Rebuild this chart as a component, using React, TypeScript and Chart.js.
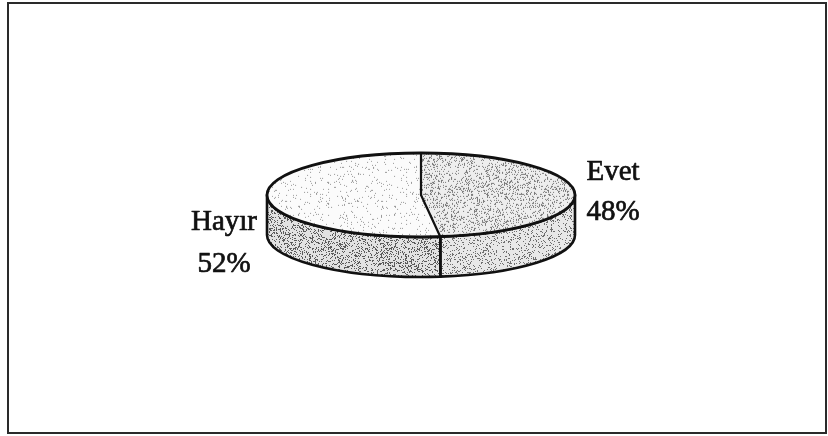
import React, { useEffect, useRef } from "react";
import { Chart, registerables } from "chart.js";

Chart.register(...registerables);

// ---- data ----
const categories = ["Evet", "Hayır"];
const values = [48, 52];
const percentLabels = ["48%", "52%"];

// ---- layout / style constants ----
const W = 828;
const H = 436;
const CX = 421; // pie centre x
const CY = 195; // top-face centre y
const RX = 154; // horizontal radius
const RY = 42; // vertical radius of the tilted ellipse
const DEPTH = 40; // side thickness
const K = RY / RX;
const FONT = '29px "Liberation Serif", "Times New Roman", serif';
const LINE = "#111111";

// per-category style: top face base, top speckle, side base, side speckle
const topBase = ["#eeeeee", "#fbfbfb"];
const topDot = ["#7a7a7a", "#9a9a9a"];
const topDensity = [0.18, 0.05];
const sideBase = ["#e8e8e8", "#e2e2e2"];
const sideDot = ["#6e6e6e", "#5a5a5a"];
const sideDensity = [0.17, 0.24];
// label placement: gap from ellipse edge to text centre, baselines relative to CY
const labelGap = [38, 43];
const labelLine1 = [-15, 35];
const labelLine2 = [25, 77];

function hash(x: number, y: number, s: number) {
  let n = Math.imul(x, 374761393) + Math.imul(y, 668265263) + Math.imul(s, 1442695041);
  n = Math.imul(n ^ (n >>> 13), 1274126177);
  n = n ^ (n >>> 16);
  return (n >>> 0) / 4294967296;
}

function stipple(base: string, dot: string, density: number, seed: number, sy: number) {
  const c = document.createElement("canvas");
  c.width = 96;
  c.height = 96;
  const g = c.getContext("2d")!;
  g.fillStyle = base;
  g.fillRect(0, 0, 96, 96);
  g.fillStyle = dot;
  for (let y = 0; y < 96; y++) {
    for (let x = 0; x < 96; x++) {
      if (hash(x, y, seed) < density) g.fillRect(x, y, 1, 1);
    }
  }
  const p = g.createPattern(c, "repeat")!;
  if (sy !== 1 && (p as any).setTransform) {
    p.setTransform(new DOMMatrix([1, 0, 0, sy, 0, 0]));
  }
  return p;
}

function makePie3d(sides: CanvasPattern[]) {
  return {
    id: "pie3d",
    beforeDatasetsDraw(chart: any) {
      const ctx = chart.ctx as CanvasRenderingContext2D;
      const arcs = chart.getDatasetMeta(0).data;
      ctx.save();
      if (!arcs.length) return;
      const { x, y, outerRadius } = arcs[0].getProps(["x", "y", "outerRadius"], true);
      const rx = outerRadius;
      const ry = outerRadius * K;
      ctx.lineWidth = 2.6;
      ctx.strokeStyle = LINE;
      ctx.lineJoin = "round";
      arcs.forEach((arc: any, i: number) => {
        const { startAngle, endAngle } = arc.getProps(["startAngle", "endAngle"], true);
        for (let k = -1; k <= 1; k++) {
          const lo = Math.max(startAngle, 2 * Math.PI * k);
          const hi = Math.min(endAngle, 2 * Math.PI * k + Math.PI);
          if (hi <= lo) continue;
          ctx.beginPath();
          ctx.ellipse(x, y, rx, ry, 0, lo, hi, false);
          ctx.lineTo(x + rx * Math.cos(hi), y + ry * Math.sin(hi) + DEPTH);
          ctx.ellipse(x, y + DEPTH, rx, ry, 0, hi, lo, true);
          ctx.closePath();
          ctx.fillStyle = sides[i];
          ctx.fill();
          ctx.stroke();
        }
      });
      // flatten the library-drawn pie into the top face ellipse
      ctx.translate(x, y);
      ctx.scale(1, K);
      ctx.translate(-x, -y);
    },
    afterDatasetsDraw(chart: any) {
      const ctx = chart.ctx as CanvasRenderingContext2D;
      ctx.restore();
      const arcs = chart.getDatasetMeta(0).data;
      if (!arcs.length) return;
      const { x, y, outerRadius } = arcs[0].getProps(["x", "y", "outerRadius"], true);
      const rx = outerRadius;
      const ry = outerRadius * K;
      ctx.save();
      ctx.lineWidth = 2.8;
      ctx.strokeStyle = LINE;
      ctx.lineJoin = "round";
      ctx.lineCap = "round";
      ctx.beginPath();
      ctx.ellipse(x, y, rx, ry, 0, 0, Math.PI * 2);
      ctx.stroke();
      ctx.lineWidth = 2.2;
      arcs.forEach((arc: any) => {
        const { startAngle } = arc.getProps(["startAngle"], true);
        const ex = x + rx * Math.cos(startAngle);
        const ey = y + ry * Math.sin(startAngle);
        ctx.beginPath();
        ctx.moveTo(x, y);
        ctx.lineTo(ex, ey);
        if (Math.sin(startAngle) > 0) ctx.lineTo(ex, ey + DEPTH);
        ctx.stroke();
      });
      // labels
      ctx.fillStyle = LINE;
      ctx.strokeStyle = LINE;
      ctx.lineWidth = 0.7;
      ctx.font = FONT;
      ctx.textAlign = "center";
      ctx.textBaseline = "alphabetic";
      arcs.forEach((arc: any, i: number) => {
        const { startAngle, endAngle } = arc.getProps(["startAngle", "endAngle"], true);
        const mid = (startAngle + endAngle) / 2;
        const dir = Math.cos(mid) >= 0 ? 1 : -1;
        const tx = x + dir * (rx + labelGap[i]);
        ctx.fillText(categories[i], tx, y + labelLine1[i]);
        ctx.strokeText(categories[i], tx, y + labelLine1[i]);
        ctx.fillText(percentLabels[i], tx, y + labelLine2[i]);
        ctx.strokeText(percentLabels[i], tx, y + labelLine2[i]);
      });
      ctx.restore();
    },
  };
}

export default function App() {
  const ref = useRef<HTMLCanvasElement>(null);
  useEffect(() => {
    const canvas = ref.current!;
    const tops = categories.map((_, i) => stipple(topBase[i], topDot[i], topDensity[i], i + 1, 1 / K));
    const sides = categories.map((_, i) => stipple(sideBase[i], sideDot[i], sideDensity[i], i + 11, 1));
    const chart = new Chart(canvas, {
      type: "pie",
      data: {
        labels: categories,
        datasets: [
          {
            data: values,
            backgroundColor: tops as any,
            borderWidth: 0,
            clip: false as any,
          },
        ],
      },
      options: {
        responsive: false,
        animation: false,
        events: [],
        radius: RX,
        layout: {
          padding: {
            left: CX - RX,
            right: W - (CX + RX),
            top: CY - RX,
            bottom: H - (CY + RX),
          },
        },
        plugins: {
          legend: { display: false },
          tooltip: { enabled: false },
        },
      } as any,
      plugins: [makePie3d(sides)],
    });
    return () => chart.destroy();
  }, []);
  return (
    <div style={{ position: "absolute", left: 0, top: 0, width: W, height: H, background: "#fff" }}>
      <div
        style={{
          position: "absolute",
          left: 7,
          top: 2,
          width: 820,
          height: 432,
          boxSizing: "border-box",
          border: "2px solid #2a2a2a",
        }}
      />
      <canvas ref={ref} width={W} height={H} style={{ position: "absolute", left: 0, top: 0 }} />
    </div>
  );
}
